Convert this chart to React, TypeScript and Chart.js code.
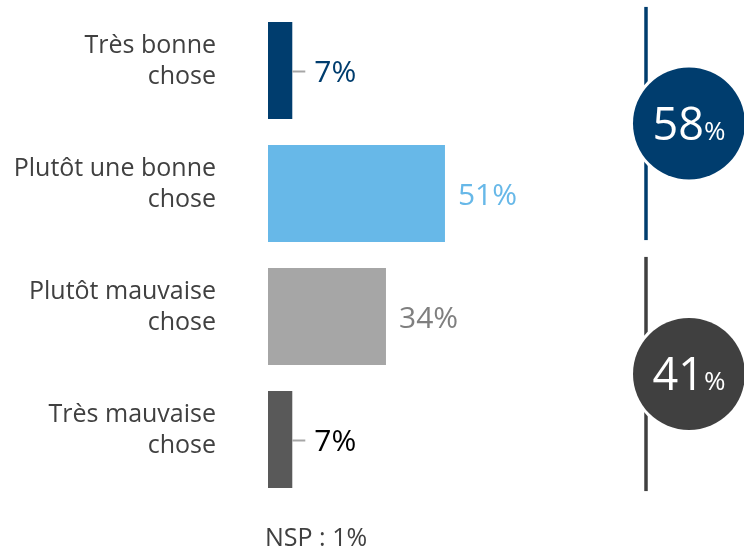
import React, { useEffect, useRef } from "react";
import { Chart, registerables } from "chart.js";

Chart.register(...registerables);

const categories: string[][] = [
  ["Très bonne", "chose"],
  ["Plutôt une bonne", "chose"],
  ["Plutôt mauvaise", "chose"],
  ["Très mauvaise", "chose"],
];
const values = [7, 51, 34, 7];
const barColors = ["#003d6e", "#67b8e8", "#a6a6a6", "#595959"];
const labelColors = ["#003d6e", "#67b8e8", "#7f7f7f", "#000000"];
const summaryValues = [58, 41];
const summaryColors = ["#003d6e", "#404040"];
const summaryGroups = [
  [0, 1],
  [2, 3],
];
const footnote = "NSP : 1%";
const FONT = "'Open Sans', sans-serif";

const overlayPlugin = {
  id: "overlay",
  afterDatasetsDraw(chart: any) {
    const ctx = chart.ctx;
    const meta = chart.getDatasetMeta(0);
    const area = chart.chartArea;
    ctx.save();
    // value labels
    meta.data.forEach((bar: any, i: number) => {
      const v = values[i];
      let tx = bar.x + 13;
      if (v < 10) {
        ctx.strokeStyle = "#a6a6a6";
        ctx.lineWidth = 2;
        ctx.beginPath();
        ctx.moveTo(bar.x, bar.y + 1);
        ctx.lineTo(bar.x + 13, bar.y + 1);
        ctx.stroke();
        tx = bar.x + 22;
      }
      ctx.fillStyle = labelColors[i];
      ctx.font = `30px ${FONT}`;
      ctx.textAlign = "left";
      ctx.textBaseline = "middle";
      ctx.fillText(v + "%", tx, bar.y + 3);
    });
    // summary lines + circles
    const lineX = area.right + 31;
    const cx = lineX + 43;
    const topPad = [15, 11];
    const bottomPad = [-2, 3];
    summaryGroups.forEach((g, k) => {
      const b0 = meta.data[g[0]];
      const b1 = meta.data[g[1]];
      const top = b0.y - b0.height / 2 - topPad[k];
      const bottom = b1.y + b1.height / 2 + bottomPad[k];
      const cy = (top + bottom) / 2;
      ctx.strokeStyle = summaryColors[k];
      ctx.lineWidth = 3.5;
      ctx.beginPath();
      ctx.moveTo(lineX, top);
      ctx.lineTo(lineX, bottom);
      ctx.stroke();
      ctx.beginPath();
      ctx.arc(cx, cy, 59, 0, Math.PI * 2);
      ctx.fillStyle = "#ffffff";
      ctx.fill();
      ctx.beginPath();
      ctx.arc(cx, cy, 56, 0, Math.PI * 2);
      ctx.fillStyle = summaryColors[k];
      ctx.fill();
      const num = String(summaryValues[k]);
      ctx.fillStyle = "#ffffff";
      ctx.textBaseline = "alphabetic";
      ctx.font = `45px ${FONT}`;
      const w1 = ctx.measureText(num).width;
      ctx.font = `26px ${FONT}`;
      const w2 = ctx.measureText("%").width;
      const sx = cx - (w1 + w2) / 2;
      ctx.font = `45px ${FONT}`;
      ctx.textAlign = "left";
      ctx.fillText(num, sx, cy + 16);
      ctx.font = `26px ${FONT}`;
      ctx.fillText("%", sx + w1, cy + 16);
    });
    // footnote
    ctx.fillStyle = "#404040";
    ctx.font = `25px ${FONT}`;
    ctx.textAlign = "left";
    ctx.textBaseline = "middle";
    ctx.fillText(footnote, area.left - 3, 539);
    ctx.restore();
  },
};

export default function App() {
  const ref = useRef<HTMLCanvasElement | null>(null);
  useEffect(() => {
    if (!ref.current) return;
    const chart = new Chart(ref.current, {
      type: "bar",
      data: {
        labels: categories as any,
        datasets: [
          {
            data: values,
            backgroundColor: barColors,
            borderWidth: 0,
            categoryPercentage: 1,
            barPercentage: 0.79,
          },
        ],
      },
      options: {
        indexAxis: "y",
        animation: false,
        responsive: false,
        maintainAspectRatio: false,
        layout: { padding: { top: 9, bottom: 51, right: 129, left: 0 } },
        plugins: {
          legend: { display: false },
          tooltip: { enabled: false },
        },
        scales: {
          x: { display: false, min: 0, max: 100 },
          y: {
            border: { display: false },
            grid: { display: false, drawTicks: false },
            afterFit: (s: any) => {
              s.width = 268;
              s.paddingTop = 0;
              s.paddingBottom = 0;
            },
            ticks: {
              padding: 52,
              labelOffset: -9,
              color: "#404040",
              font: { family: FONT, size: 25, lineHeight: 1.25 },
            },
          },
        },
      },
      plugins: [overlayPlugin],
    });
    return () => chart.destroy();
  }, []);
  return (
    <canvas
      ref={ref}
      width={744}
      height={552}
      style={{ position: "absolute", left: 0, top: 0, width: 744, height: 552 }}
    />
  );
}
